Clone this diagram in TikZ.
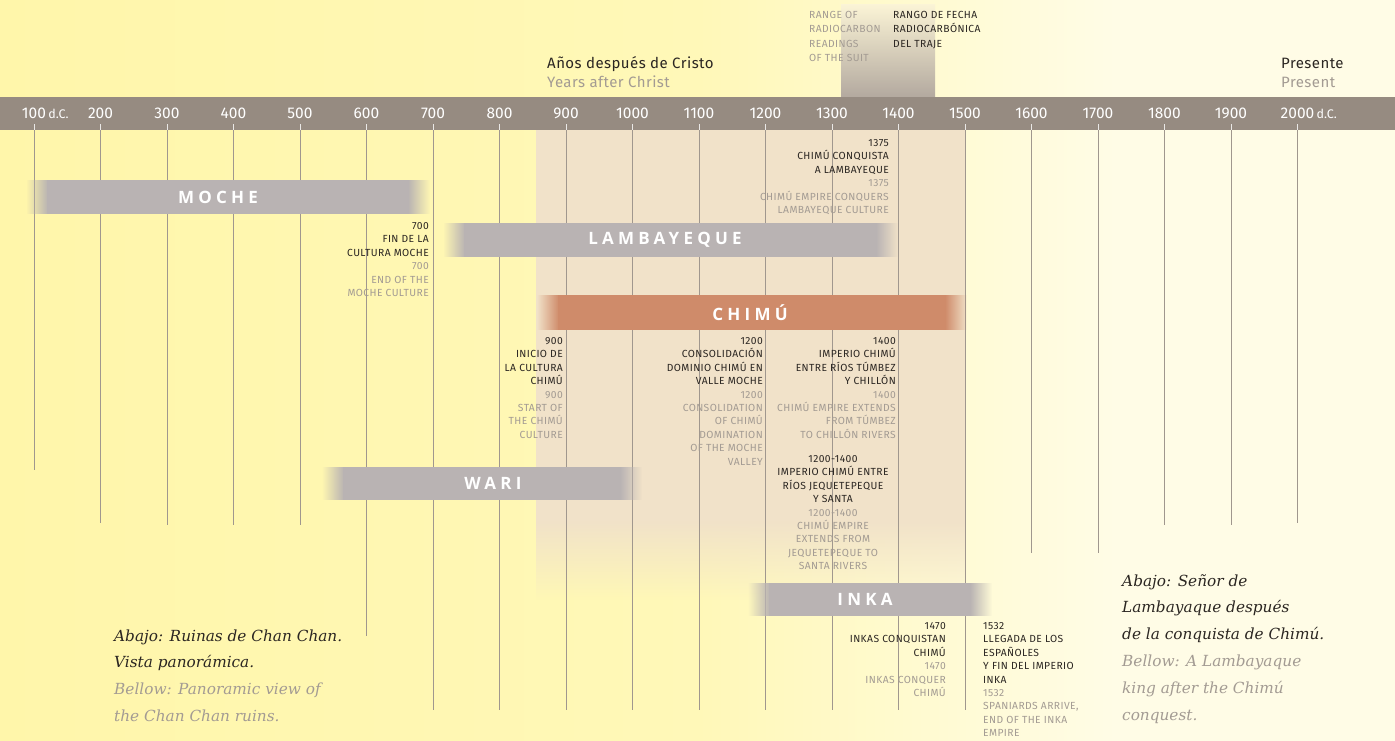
\documentclass[tikz,border=0pt]{standalone}
\usepackage{fontspec}
\setmainfont{Fira Sans}
\newfontfamily\annfont[LetterSpace=4]{Fira Sans}
\newfontfamily\hdrfont[LetterSpace=3]{Fira Sans}
\newfontfamily\barfont[LetterSpace=25]{Open Sans}
\newfontfamily\capfont{DejaVu Serif}
\usetikzlibrary{fadings}
\definecolor{ylw}{HTML}{FFF6AA}
\definecolor{ylwb}{HTML}{FFF8B8}
\definecolor{cream}{HTML}{FFFCE6}
\definecolor{barc}{HTML}{968B81}
\definecolor{linec}{HTML}{A0978E}
\definecolor{beige}{HTML}{F1E2C9}
\definecolor{bargrey}{HTML}{B9B3B3}
\definecolor{chimuc}{HTML}{CF8B6A}
\definecolor{dk}{HTML}{2B2622}
\definecolor{gy}{HTML}{A39B93}
\definecolor{coltop}{HTML}{FBF4D6}
\definecolor{colbot}{HTML}{B3A99F}
\newcommand\tdk[1]{\textcolor{dk}{#1}}
\newcommand\tgy[1]{\textcolor{gy}{#1}}
\pgfdeclarehorizontalshading{bgshade}{100bp}{color(0bp)=(ylw); color(25bp)=(ylw); color(50bp)=(ylwb); color(65bp)=(cream); color(75bp)=(cream); color(100bp)=(cream)}
% bar: name, x0, x1, y0, y1, colour, label x, label
\newcommand\tlbar[8]{%
  \fill[#6] (#2+21,#4) rectangle (#3-21,#5);
  \fill[#6, path fading=west] (#2,#4) rectangle (#2+22,#5);
  \fill[#6, path fading=east] (#3-22,#4) rectangle (#3,#5);
  \node[barlbl] (#1) at (#7,{(#4+#5)/2}) {#8};
}
\begin{document}
\begin{tikzpicture}[x=1pt,y=-1pt,
  vline/.style={draw=linec, line width=0.9pt},
  barlbl/.style={font=\barfont\bfseries\fontsize{17}{17}\selectfont, text=white, inner sep=0},
  ann/.style={font=\annfont\fontsize{10.3}{13.4}\selectfont, inner sep=0},
  ticklbl/.style={font=\fontsize{15.5}{15.5}\selectfont, text=white, inner sep=0, anchor=base},
  dclbl/.style={font=\fontsize{12.5}{12.5}\selectfont, text=white, inner sep=0, anchor=base west},
  hdrtxt/.style={font=\hdrfont\fontsize{15}{19}\selectfont, inner sep=0, align=left, anchor=base west},
  captxt/.style={font=\capfont\itshape\fontsize{15.3}{26.8}\selectfont, inner sep=0, align=left, anchor=base west}]
\useasboundingbox (0,0) rectangle (1395,740);
% background
\shade[shading=bgshade] (0,0) rectangle (1395,740);
% beige region, fading out at its foot
\fill[beige] (536,130) rectangle (966,521);
\fill[beige, path fading=south] (536,520) rectangle (966,600);
% radiocarbon column
\shade[top color=coltop, bottom color=colbot] (841,4) rectangle (935,97);
% vertical lines
\foreach \y/\b in {100/470,200/523,300/525,400/525,500/525,600/636,700/710,800/710,900/710,1000/710,1100/710,1200/710,1300/710,1400/710,1500/710,1600/553,1700/553,1800/525,1900/525,2000/523}{
  \pgfmathsetmacro\xx{34+(\y-100)*0.665}
  \coordinate (top\y) at (\xx,124);
  \coordinate (bot\y) at (\xx,\b);
  \draw[vline] (top\y) -- (bot\y);
}
% time bar
\fill[barc] (0,97) rectangle (1395,130);
\foreach \y in {100,200,...,2000}{
  \pgfmathsetmacro\xx{34+(\y-100)*0.665}
  \draw[draw=white!80!barc, line width=0.8pt] (top\y) -- ++(0,6);
  \node[ticklbl] (n\y) at (\xx,118.3) {\y};
}
\node[dclbl] (dc1) at ([xshift=2pt]n100.base east) {d.C.};
\node[dclbl] (dc2) at ([xshift=2pt]n2000.base east) {d.C.};
% culture bars
\tlbar{moche}{26}{430}{180}{214}{bargrey}{218}{MOCHE}
\tlbar{lamb}{443}{898}{223}{257}{bargrey}{665}{LAMBAYEQUE}
\tlbar{chimu}{537}{967}{295}{330}{chimuc}{750}{CHIMÚ}
\tlbar{wari}{322}{642}{467}{500}{bargrey}{493}{WARI}
\tlbar{inka}{748}{992}{583}{616}{bargrey}{865}{INKA}
% headers (anchor = baseline of last line)
\node[hdrtxt] (hdr1) at (547,87) {\tdk{Años después de Cristo}\\\tgy{Years after Christ}};
\node[hdrtxt] (hdr2) at (1281,87) {\tdk{Presente}\\\tgy{Present}};
\node[ann, font=\annfont\fontsize{10.3}{14.4}\selectfont, align=left, anchor=base west] (rc1) at (809,61.7) {\tgy{RANGE OF}\\\tgy{RADIOCARBON}\\\tgy{READINGS}\\\tgy{OF THE SUIT}};
\node[ann, font=\annfont\fontsize{10.3}{14.4}\selectfont, align=left, anchor=base west] (rc2) at (893,47.3) {\tdk{RANGO DE FECHA}\\\tdk{RADIOCARBÓNICA}\\\tdk{DEL TRAJE}};
% annotations
\node[ann, align=right, anchor=base east] (a1375) at (889,213.5) {\tdk{1375}\\\tdk{CHIMÚ CONQUISTA}\\\tdk{A LAMBAYEQUE}\\\tgy{1375}\\\tgy{CHIMÚ EMPIRE CONQUERS}\\\tgy{LAMBAYEQUE CULTURE}};
\node[ann, align=right, anchor=base east] (a700) at (429,296.5) {\tdk{700}\\\tdk{FIN DE LA}\\\tdk{CULTURA MOCHE}\\\tgy{700}\\\tgy{END OF THE}\\\tgy{MOCHE CULTURE}};
\node[ann, align=right, anchor=base east] (a900) at (563,438.3) {\tdk{900}\\\tdk{INICIO DE}\\\tdk{LA CULTURA}\\\tdk{CHIMÚ}\\\tgy{900}\\\tgy{START OF}\\\tgy{THE CHIMÚ}\\\tgy{CULTURE}};
\node[ann, align=right, anchor=base east] (a1200) at (763,465.1) {\tdk{1200}\\\tdk{CONSOLIDACIÓN}\\\tdk{DOMINIO CHIMÚ EN}\\\tdk{VALLE MOCHE}\\\tgy{1200}\\\tgy{CONSOLIDATION}\\\tgy{OF CHIMÚ}\\\tgy{DOMINATION}\\\tgy{OF THE MOCHE}\\\tgy{VALLEY}};
\node[ann, align=right, anchor=base east] (a1400) at (896,438.3) {\tdk{1400}\\\tdk{IMPERIO CHIMÚ}\\\tdk{ENTRE RÍOS TÚMBEZ}\\\tdk{Y CHILLÓN}\\\tgy{1400}\\\tgy{CHIMÚ EMPIRE EXTENDS}\\\tgy{FROM TÚMBEZ}\\\tgy{TO CHILLÓN RIVERS}};
\node[ann, align=center, anchor=base] (a1214) at (833,569.7) {\tdk{1200-1400}\\\tdk{IMPERIO CHIMÚ ENTRE}\\\tdk{RÍOS JEQUETEPEQUE}\\\tdk{Y SANTA}\\\tgy{1200-1400}\\\tgy{CHIMÚ EMPIRE}\\\tgy{EXTENDS FROM}\\\tgy{JEQUETEPEQUE TO}\\\tgy{SANTA RIVERS}};
\node[ann, align=right, anchor=base east] (a1470) at (946,696.5) {\tdk{1470}\\\tdk{INKAS CONQUISTAN}\\\tdk{CHIMÚ}\\\tgy{1470}\\\tgy{INKAS CONQUER}\\\tgy{CHIMÚ}};
\node[ann, align=left, anchor=base west] (a1532) at (983,736.7) {\tdk{1532}\\\tdk{LLEGADA DE LOS}\\\tdk{ESPAÑOLES}\\\tdk{Y FIN DEL IMPERIO}\\\tdk{INKA}\\\tgy{1532}\\\tgy{SPANIARDS ARRIVE,}\\\tgy{END OF THE INKA}\\\tgy{EMPIRE}};
% captions
\node[captxt] (capL) at (114,721.4) {\tdk{Abajo: Ruinas de Chan Chan.}\\\tdk{Vista panorámica.}\\\tgy{Bellow: Panoramic view of}\\\tgy{the Chan Chan ruins.}};
\node[captxt] (capR) at (1122,720) {\tdk{Abajo: Señor de}\\\tdk{Lambayaque después}\\\tdk{de la conquista de Chimú.}\\\tgy{Bellow: A Lambayaque}\\\tgy{king after the Chimú}\\\tgy{conquest.}};
\end{tikzpicture}
\end{document}
